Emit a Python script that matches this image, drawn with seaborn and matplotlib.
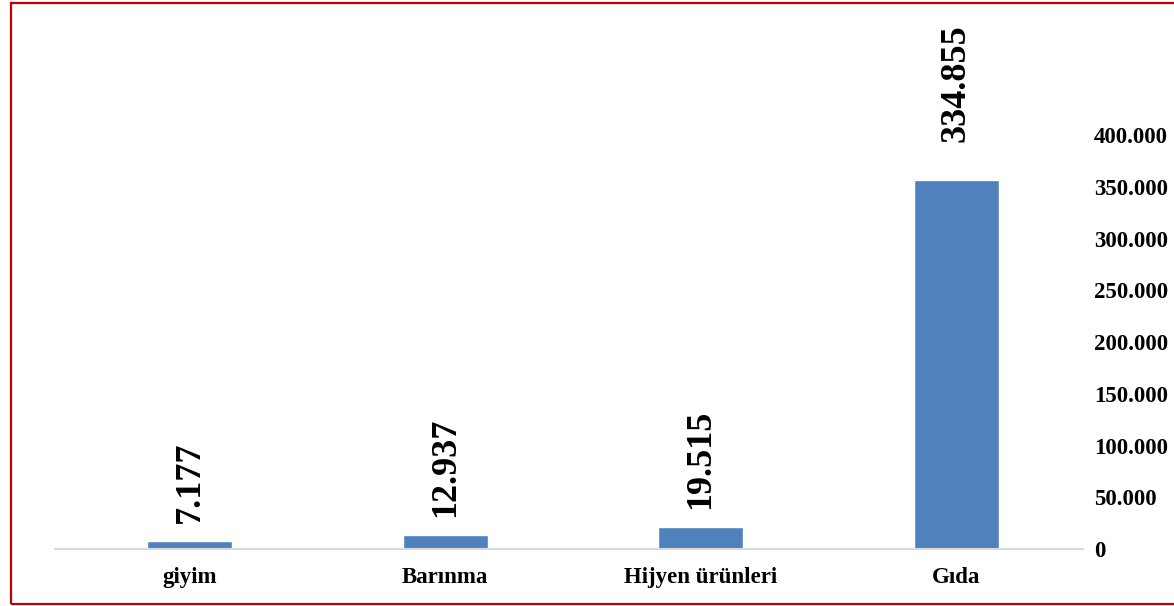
import matplotlib
matplotlib.use("Agg")
import matplotlib.pyplot as plt
import matplotlib.ticker as mticker
from matplotlib.patches import Rectangle
import seaborn as sns
import pandas as pd

# data
categories = ["giyim", "Barınma", "Hijyen ürünleri", "Gıda"]
values = [7177, 12937, 19515, 334855]
right_ticks = [0, 50000, 100000, 150000, 200000, 250000, 300000, 350000, 400000]

sns.set_style("white")
plt.rcParams['font.family'] = ['Liberation Serif', 'DejaVu Serif']
plt.rcParams['font.weight'] = 'bold'
plt.rcParams['text.color'] = 'black'
plt.rcParams['xtick.color'] = 'black'
plt.rcParams['ytick.color'] = 'black'

df = pd.DataFrame({"Kategori": categories, "Deger": values})

def dotted(v, pos=None):
    return "{:,.0f}".format(v).replace(",", ".")

W, H = 1174, 606
fig = plt.figure(figsize=(W / 100, H / 100), dpi=100)
ax = fig.add_axes([55 / W, 57 / H, 1028 / W, 529 / H])

sns.barplot(data=df, x="Kategori", y="Deger", color="#4F81BD", width=0.333,
            saturation=1, ax=ax)
ax.set_xlim(-0.528, 3.496)
ax.set_ylim(0, 529 / 1.102 * 1000)

# value labels (the tall one sits a bit higher in the original)
for i, v in enumerate(values):
    pad = 13 + (14 if v == max(values) else 0)
    ax.annotate(dotted(v), (i, v), xytext=(0, pad), textcoords="offset points",
                rotation=90, ha="center", va="bottom", fontsize=26,
                fontweight="bold", color="black")

ax.set_xlabel("")
ax.set_ylabel("")
ax.set_yticks([])
ax.tick_params(axis="x", length=0, pad=13, labelsize=16.5)
for lab in ax.get_xticklabels():
    lab.set_fontweight("bold")
for s in ["top", "left", "right"]:
    ax.spines[s].set_visible(False)
ax.spines["bottom"].set_color("#D9D9D9")
ax.spines["bottom"].set_linewidth(1.5)

# right side value axis (Excel scale differs slightly from bars)
ax2 = ax.twinx()
ax2.set_ylim(0, 529 / 1.035 * 1000)
ax2.set_yticks(right_ticks)
ax2.yaxis.set_major_formatter(mticker.FuncFormatter(dotted))
ax2.tick_params(axis="y", length=0, pad=8, labelsize=16.5)
for lab in ax2.get_yticklabels():
    lab.set_fontweight("bold")
for s in ax2.spines.values():
    s.set_visible(False)

# red frame round the chart
fig.patches.append(Rectangle((11 / W, 2 / H), 1.2, 601 / H, transform=fig.transFigure,
                             fill=False, edgecolor="#C00000", linewidth=1.6))

fig.savefig("out.png", dpi=100)
